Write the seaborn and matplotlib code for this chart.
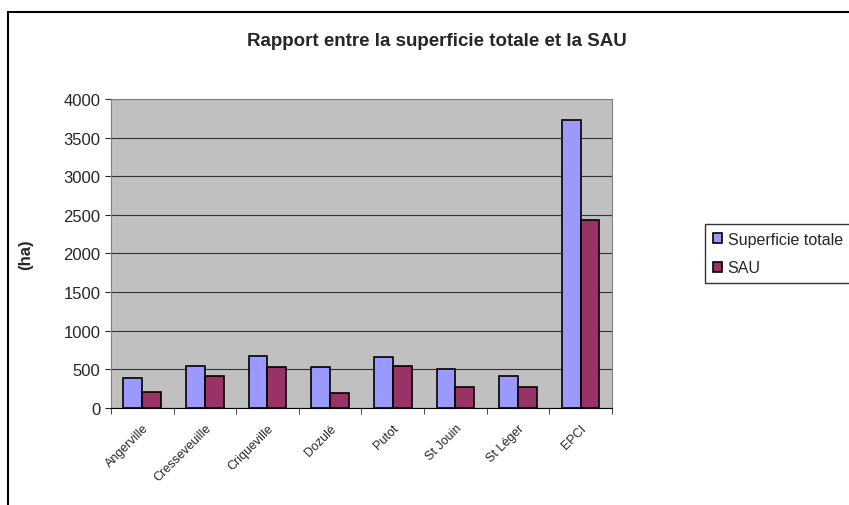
import pandas as pd
import seaborn as sns
import matplotlib.pyplot as plt
from matplotlib.lines import Line2D

communes = ["Angerville", "Cresseveuille", "Criqueville", "Dozulé", "Putot",
            "St Jouin", "St Léger", "EPCI"]
superficie_totale = [386, 549, 679, 537, 658, 506, 411, 3723]
sau = [204, 420, 537, 191, 549, 268, 268, 2432]
series = ["Superficie totale", "SAU"]

df = pd.DataFrame({
    "commune": communes * 2,
    "serie": [series[0]] * len(communes) + [series[1]] * len(communes),
    "ha": superficie_totale + sau,
})

sns.set_style("white")
plt.rcParams['font.family'] = ['Liberation Sans', 'DejaVu Sans']

fig = plt.figure(figsize=(8.49, 5.06), dpi=100)
ax = fig.add_axes([0.1307, 0.1917, 0.590, 0.6107])
ax.set_facecolor("#C0C0C0")

sns.barplot(data=df, x="commune", y="ha", hue="serie", hue_order=series,
            palette=["#9999FF", "#993366"], saturation=1, width=0.6,
            edgecolor="black", linewidth=1.2, ax=ax, zorder=3)

ax.set_ylim(0, 4000)
ax.set_xlim(-0.5, len(communes) - 0.5)
ax.set_yticks(range(0, 4001, 500))
ax.yaxis.grid(True, color="#333333", linewidth=0.8, zorder=0)
ax.set_axisbelow(True)
for s in ax.spines.values():
    s.set_color("#808080")
    s.set_linewidth(0.8)
ax.spines["bottom"].set_color("black")

ax.tick_params(axis="y", labelsize=12, length=4, direction="out", left=True)
ax.set_xticks([i - 0.5 for i in range(len(communes) + 1)], minor=True)
ax.tick_params(axis="x", which="minor", length=4, bottom=True)
ax.tick_params(axis="x", which="major", length=0, labelsize=9, pad=10)
ax.set_xticks(range(len(communes)))
ax.set_xticklabels(communes, rotation=45, ha="right", rotation_mode="anchor")

ax.set_xlabel("")
ax.set_ylabel("(ha)", fontsize=12, fontweight="bold", labelpad=22)
fig.text(437 / 849, 1 - 42 / 506, "Rapport entre la superficie totale et la SAU",
         fontsize=13.5, fontweight="bold", ha="center", va="center")

handles, labels = ax.get_legend_handles_labels()
ax.legend(handles, labels, loc="center left", bbox_to_anchor=(1.185, 0.5),
          frameon=True, fancybox=False, edgecolor="black", fontsize=11.5,
          handlelength=0.6, handleheight=0.6, handletextpad=0.35,
          borderpad=0.5, labelspacing=0.85, borderaxespad=0)

# outer chart border
fig.add_artist(Line2D([8 / 849, 8 / 849], [0, 1 - 13 / 506], color="black",
                      linewidth=1.5, transform=fig.transFigure))
fig.add_artist(Line2D([8 / 849, 1], [1 - 13 / 506, 1 - 13 / 506], color="black",
                      linewidth=1.5, transform=fig.transFigure))

fig.savefig("out.png", dpi=100)
